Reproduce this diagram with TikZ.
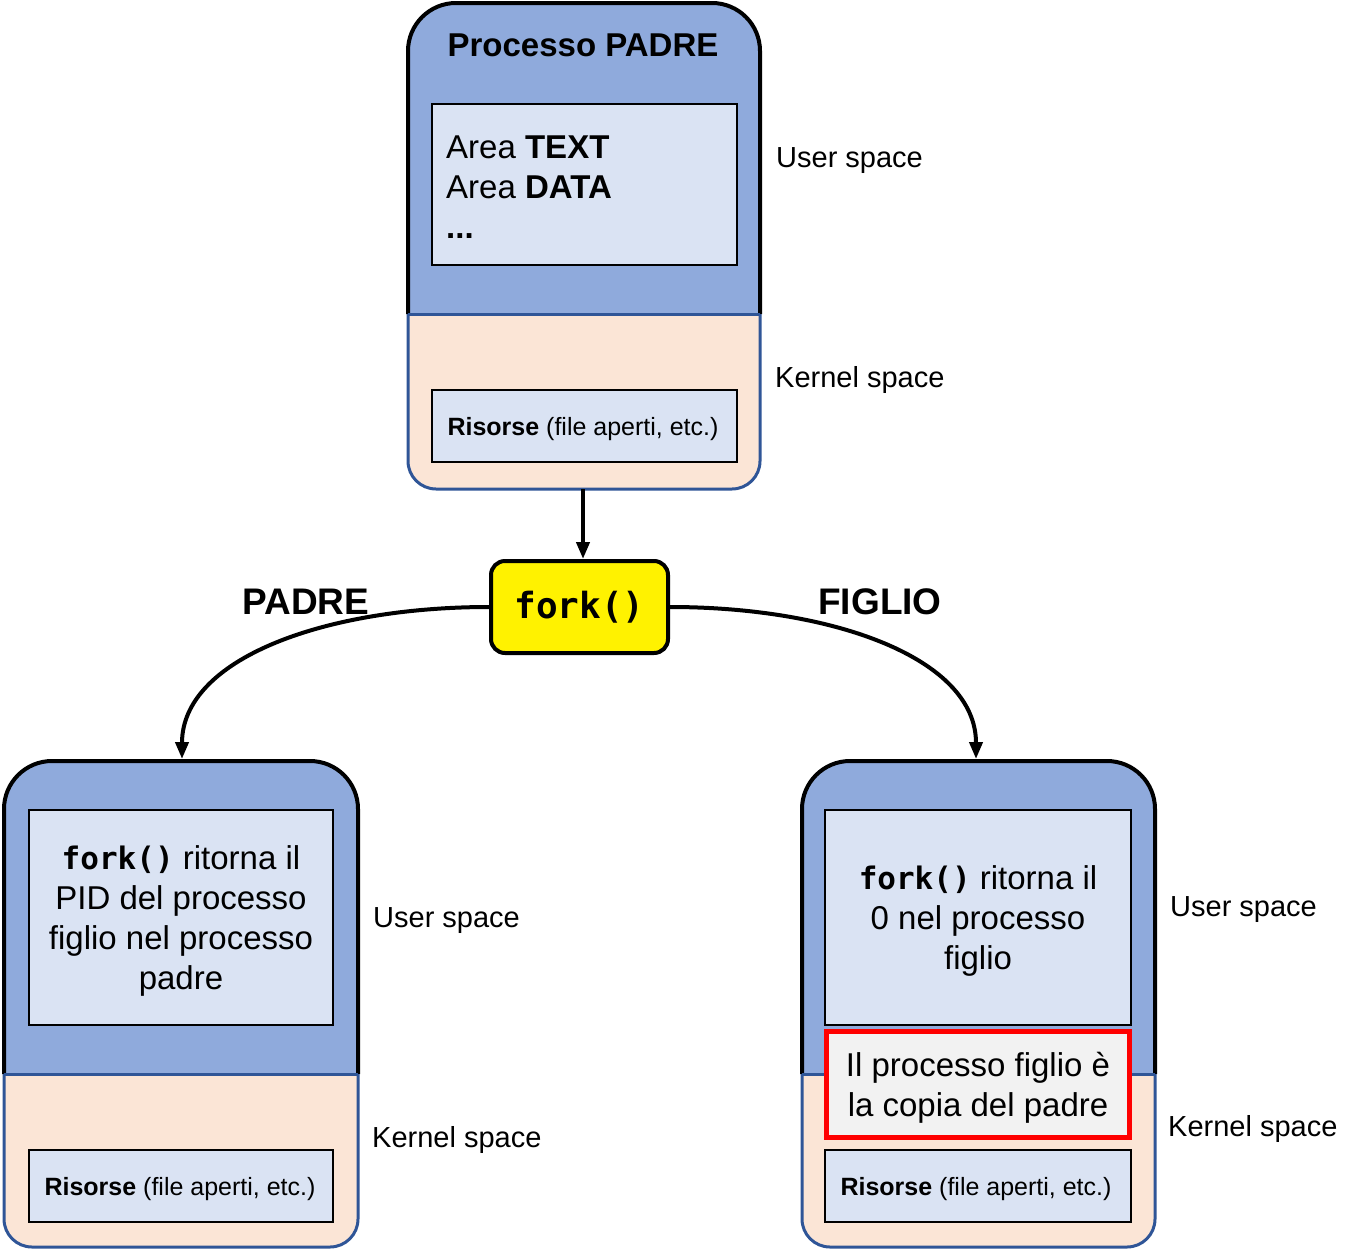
\documentclass[tikz,border=0pt]{standalone}
\usepackage{fontspec}
\setmainfont{Liberation Sans}
\newfontfamily\codefont{DejaVu Sans Mono}
\usetikzlibrary{arrows.meta}
\definecolor{userblue}{HTML}{8FAADC}
\definecolor{lightblue}{HTML}{DAE3F3}
\definecolor{peach}{HTML}{FBE5D6}
\definecolor{edgeblue}{HTML}{2F5597}
\definecolor{copygray}{HTML}{F2F2F2}
\definecolor{copyred}{HTML}{FF0000}
\newcommand\forkcode[1]{{\codefont\bfseries\fontsize{31}{40}\selectfont #1}}
\newcommand\procshape[5]{% x1, ytop, x2, ydiv, ybot
  \fill[userblue, rounded corners=48pt] (#1,#4) -- (#1,#2) -- (#3,#2) -- (#3,#4);
  \fill[peach, rounded corners=28pt] (#1,#4) -- (#1,#5) -- (#3,#5) -- (#3,#4);
  \draw[line width=4pt, rounded corners=48pt] (#1,#4) -- (#1,#2) -- (#3,#2) -- (#3,#4);
  \draw[edgeblue, line width=3pt, rounded corners=28pt] (#1,#4) -- (#1,#5) -- (#3,#5) -- (#3,#4);
  \draw[edgeblue, line width=3pt] (#1,#4) -- (#3,#4);
}
\tikzset{
  inbox/.style={draw, line width=2.5pt, fill=lightblue, inner sep=0pt},
  bigtext/.style={inner sep=0pt, font=\fontsize{33}{40}\selectfont},
  spacelabel/.style={anchor=west, inner sep=0pt, font=\fontsize{29}{34}\selectfont},
  restext/.style={inner sep=0pt, font=\fontsize{25}{30}\selectfont},
  arr/.style={line width=4pt, -{Triangle[length=17pt,width=13pt]}},
  branch/.style={inner sep=0pt, font=\bfseries\fontsize{37}{40}\selectfont}
}
\begin{document}
\begin{tikzpicture}[x=1pt, y=-1pt]
\useasboundingbox (0,0) rectangle (1356,1250);

% ---------- parent process ----------
\procshape{408}{3}{760}{314}{489}
\node[branch, font=\bfseries\fontsize{33}{40}\selectfont] (ptitle) at (583,45) {Processo PADRE};
\node[inbox, minimum width=305pt, minimum height=161pt] (pbox) at (584.5,184.5) {};
\node[bigtext, anchor=west, align=left] (ptxt) at (446,187) {Area \textbf{TEXT}\\Area \textbf{DATA}\\\textbf{...}};
\node[inbox, minimum width=305pt, minimum height=72pt] (pres) at (584.5,426) {};
\node[restext] (prestxt) at (583,429) {\textbf{Risorse} (file aperti, etc.)};
\node[spacelabel] (puser) at (776,161) {User space};
\node[spacelabel] (pkern) at (775,380) {Kernel space};
\coordinate (pbot) at (583,489);

% ---------- fork ----------
\node[draw, line width=4pt, fill=yellow, rounded corners=14pt, minimum width=177pt, minimum height=92pt, inner sep=0pt,
      font=\codefont\bfseries\fontsize{36}{40}\selectfont] (fork) at (579.5,607) {fork()};
\draw[arr] (pbot) -- (pbot |- fork.north);

\node[branch] (lpadre) at (306,602) {PADRE};
\node[branch] (lfiglio) at (880,602) {FIGLIO};

\coordinate (ltop) at (182,759);
\coordinate (rtop) at (976,759);
\draw[arr] (fork.west) .. controls +(-165,0) and +(0,-100) .. (ltop);
\draw[arr] (fork.east) .. controls +(165,0) and +(0,-100) .. (rtop);

% ---------- child: padre ----------
\procshape{4}{761}{358}{1074}{1247}
\node[inbox, minimum width=304pt, minimum height=215pt] (lbox) at (181,917.5) {};
\node[bigtext, align=center] (ltxt) at (181,921) {\forkcode{fork()} ritorna il\\PID del processo\\figlio nel processo\\padre};
\node[inbox, minimum width=304pt, minimum height=72pt] (lres) at (181,1186) {};
\node[restext] (lrestxt) at (180,1189) {\textbf{Risorse} (file aperti, etc.)};
\node[spacelabel] (luser) at (373,921) {User space};
\node[spacelabel] (lkern) at (372,1140) {Kernel space};

% ---------- child: figlio ----------
\procshape{802}{761}{1155}{1074}{1247}
\node[inbox, minimum width=306pt, minimum height=215pt] (rbox) at (978,917.5) {};
\node[bigtext, align=center] (rtxt) at (978,921) {\forkcode{fork()} ritorna il\\0 nel processo\\figlio};
\node[draw=copyred, line width=5pt, fill=copygray, minimum width=303pt, minimum height=106pt, inner sep=0pt] (rcopy) at (978,1084) {};
\node[bigtext, align=center] (rcopytxt) at (978,1088) {Il processo figlio è\\la copia del padre};
\node[inbox, minimum width=306pt, minimum height=72pt] (rres) at (978,1186) {};
\node[restext] (rrestxt) at (976,1189) {\textbf{Risorse} (file aperti, etc.)};
\node[spacelabel] (ruser) at (1170,910) {User space};
\node[spacelabel] (rkern) at (1168,1129) {Kernel space};
\end{tikzpicture}
\end{document}
